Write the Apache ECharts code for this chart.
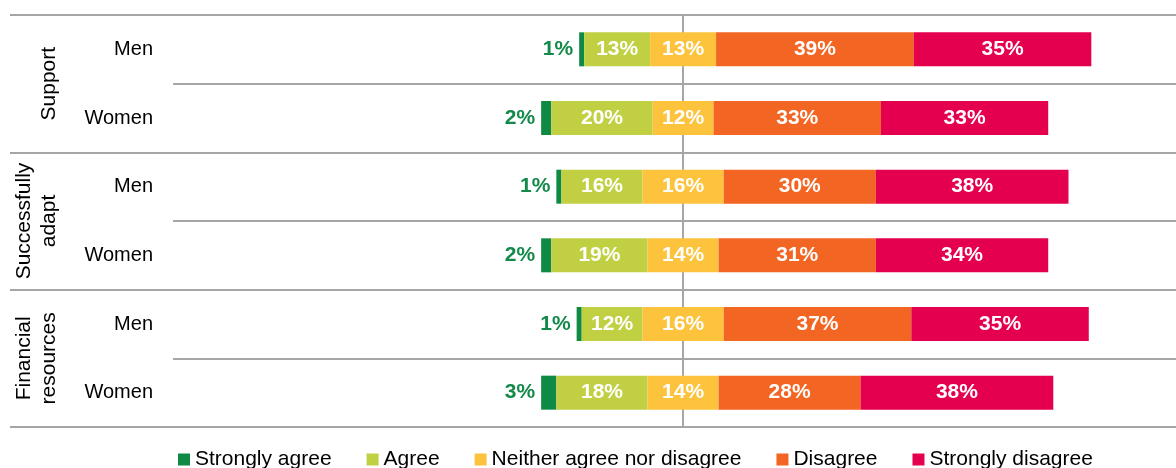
<!DOCTYPE html>
<html>
<head>
<meta charset="utf-8">
<script src="https://cdn.jsdelivr.net/npm/echarts@6/dist/echarts.min.js"></script>
<style>
  html, body { margin: 0; padding: 0; background: #fff; }
  #chart { width: 1176px; height: 468px; }
</style>
</head>
<body>
<div id="chart"></div>
<script>
// Row labels (top to bottom) and the three question groups
const categories = ['Men', 'Women', 'Men', 'Women', 'Men', 'Women'];
const groups = ['Support', 'Successfully\nadapt', 'Financial\nresources'];

// Share of responses, in percent
const stronglyAgree    = [1, 2, 1, 2, 1, 3];
const agree            = [13, 20, 16, 19, 12, 18];
const neither          = [13, 12, 16, 14, 16, 14];
const disagree         = [39, 33, 30, 31, 37, 28];
const stronglyDisagree = [35, 33, 38, 34, 35, 38];

const seriesNames = ['Strongly agree', 'Agree', 'Neither agree nor disagree', 'Disagree', 'Strongly disagree'];
const colors = ['#0f8a45', '#c1d042', '#fdc33d', '#f26522', '#e4004f'];

// Invisible lead-in so the neutral block is centred on zero
const offset = categories.map((_, i) => -(stronglyAgree[i] + agree[i] + neither[i] / 2));

const FONT = "'Liberation Sans', Arial, sans-serif";
const GRID_COLOR = '#a6a6a6';
const X_MIN = -100.6, X_MAX = 97.2;

const valueLabel = {
  show: true,
  position: 'inside',
  color: '#fff',
  fontFamily: FONT,
  fontWeight: 'bold',
  fontSize: 21,
  formatter: p => p.value + '%'
};

function bar(name, data, color, label) {
  return {
    name, type: 'bar', stack: 'total', stackStrategy: 'all',
    data, barWidth: 34,
    itemStyle: { color },
    label,
    emphasis: { disabled: true }
  };
}

const series = [
  {
    name: 'offset', type: 'bar', stack: 'total', stackStrategy: 'all',
    data: offset, barWidth: 34,
    itemStyle: { color: 'transparent' },
    label: { show: false },
    silent: true
  },
  bar(seriesNames[0], stronglyAgree, colors[0], {
    show: true, position: 'left', distance: 6,
    color: '#13894a', fontFamily: FONT, fontWeight: 'bold', fontSize: 21,
    formatter: p => p.value + '%'
  }),
  bar(seriesNames[1], agree, colors[1], valueLabel),
  bar(seriesNames[2], neither, colors[2], valueLabel),
  bar(seriesNames[3], disagree, colors[3], valueLabel),
  bar(seriesNames[4], stronglyDisagree, colors[4], valueLabel)
];

const chart = echarts.init(document.getElementById('chart'), null, { renderer: 'canvas' });
chart.setOption({
  animation: false,
  backgroundColor: '#fff',
  grid: { left: 173, right: 0, top: 15, bottom: 41, containLabel: false },
  xAxis: {
    // only the split line at zero is drawn: the centre reference line
    type: 'value', min: X_MIN, max: X_MAX, interval: -X_MIN,
    axisLine: { show: false },
    axisTick: { show: false },
    axisLabel: { show: false },
    splitLine: {
      show: true, showMinLine: false, showMaxLine: false,
      lineStyle: { color: GRID_COLOR, width: 2 }
    }
  },
  yAxis: [
    {
      type: 'category', data: categories, inverse: true,
      axisLine: { show: true, lineStyle: { color: GRID_COLOR, width: 2 } },
      axisTick: { show: true, interval: 0, length: 95, lineStyle: { color: GRID_COLOR, width: 2 } },
      splitLine: { show: true, interval: 0, lineStyle: { color: GRID_COLOR, width: 2 } },
      axisLabel: { interval: 0, margin: 20, color: '#000', fontFamily: FONT, fontSize: 20 }
    },
    {
      type: 'category', data: groups, inverse: true, position: 'left',
      axisLine: { show: false },
      axisTick: { show: true, interval: 0, length: 163, lineStyle: { color: GRID_COLOR, width: 2 } },
      splitLine: { show: false },
      axisLabel: {
        interval: 0, margin: 111, rotate: 90, hideOverlap: false,
        color: '#000', fontFamily: FONT, fontSize: 21, lineHeight: 25
      }
    }
  ],
  legend: {
    data: seriesNames,
    left: 178, top: 449, padding: 0,
    icon: 'rect', itemWidth: 12, itemHeight: 12, itemGap: 35,
    textStyle: { color: '#000', fontFamily: FONT, fontSize: 21 },
    selectedMode: false
  },
  series
});
</script>
</body>
</html>
